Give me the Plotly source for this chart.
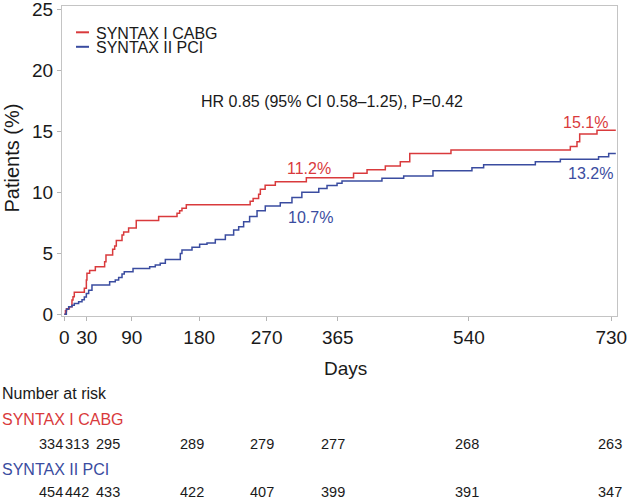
import plotly.graph_objects as go

# ---------------- data ----------------
cabg_days = [0, 1.5, 3, 6.7, 10.2, 11.6, 13.3, 26.7, 29.4, 30.2, 33.8, 41.4, 53.8, 55.6,
             64.5, 67.2, 69.4, 77, 79.2, 85.8, 96, 125.9, 150.4, 153.9, 157, 162.8,
             248, 252, 259.3, 261.6, 268, 281.6, 323, 386, 404, 428.4, 448.4, 461,
             516, 675.3, 684.2, 687.8, 710.9, 736]
cabg_pct = [0, 0.3, 0.45, 0.62, 1.17, 1.45, 1.82, 2.13, 2.82, 3.37, 3.6, 3.91, 4.32, 4.87,
            5.35, 5.6, 6.05, 6.51, 6.75, 7.08, 7.69, 8.02, 8.3, 8.5, 8.7, 9.0,
            9.28, 9.5, 9.85, 10.26, 10.6, 10.89, 11.22, 11.57, 11.86, 12.18, 12.52, 13.2,
            13.49, 13.78, 14.17, 14.8, 15.1, 15.1]

pci_days = [0, 2.7, 5.8, 10.2, 13.3, 19.1, 23.6, 26.7, 29.4, 32.5, 36.9, 60.5, 68, 72.5,
            77, 80, 91.7, 113.9, 121.4, 128, 134.8, 154.8, 157, 170.4, 180.6, 190.4,
            201.5, 214.9, 226, 232.7, 239.3, 247.3, 257.2, 268.2, 288.2, 303.8, 317,
            339.6, 350.6, 364, 370.6, 423.9, 452.9, 492, 544, 559.6, 628.6, 662, 713,
            726.5, 736]
pci_pct = [0, 0.41, 0.62, 0.75, 0.89, 1.03, 1.2, 1.42, 1.7, 1.97, 2.4, 2.68, 2.81, 3.03,
           3.3, 3.49, 3.75, 3.9, 4.05, 4.2, 4.5, 5.0, 5.28, 5.5, 5.75, 5.85,
           6.15, 6.51, 6.92, 7.19, 7.6, 8.02, 8.5, 8.89, 9.16, 9.58, 10.02,
           10.32, 10.57, 10.75, 10.94, 11.16, 11.35, 11.79, 12.03, 12.28, 12.53, 12.72, 12.94,
           13.21, 13.21]

x_ticks = [0, 30, 90, 180, 270, 365, 540, 730]
y_ticks = [0, 5, 10, 15, 20, 25]
series_names = ["SYNTAX I CABG", "SYNTAX II PCI"]
risk_cabg = [334, 313, 295, 289, 279, 277, 268, 263]
risk_pci = [454, 442, 433, 422, 407, 399, 391, 347]
hr_text = "HR 0.85 (95% CI 0.58\u20131.25), P=0.42"
pct_labels = [("11.2%", 0), ("10.7%", 1), ("15.1%", 0), ("13.2%", 1)]

# ---------------- style ----------------
RED = "#d93a3c"
BLUE = "#3a4ca0"
FONT = "Liberation Sans, Arial, Helvetica, sans-serif"
W, H = 629, 501
L, R, T, B = 62, 12, 6, 185
PW, PH = W - L - R, H - T - B


def px(xp):
    return (xp - L) / PW


def py(yp):
    return (H - B - yp) / PH


fig = go.Figure()
fig.add_trace(go.Scatter(x=cabg_days, y=cabg_pct, mode="lines", line_shape="hv",
                         line=dict(color=RED, width=1.5), name=series_names[0]))
fig.add_trace(go.Scatter(x=pci_days, y=pci_pct, mode="lines", line_shape="hv",
                         line=dict(color=BLUE, width=1.5), name=series_names[1]))

ann = []
# manual legend
for i, (nm, col) in enumerate(zip(series_names, [RED, BLUE])):
    yy = 32.3 + i * 14.5
    fig.add_shape(type="line", xref="paper", yref="paper", x0=px(76), x1=px(89),
                  y0=py(yy), y1=py(yy), line=dict(color=col, width=2))
    ann.append(dict(text=nm, xref="paper", yref="paper", x=px(94), y=py(yy + 1),
                    xanchor="left", yanchor="middle", showarrow=False,
                    font=dict(size=16, color="#1a1a1a")))

ann.append(dict(text=hr_text, xref="paper", yref="paper", x=px(331.5), y=py(101.5),
                xanchor="center", yanchor="middle", showarrow=False,
                font=dict(size=16, color="#1a1a1a")))

pct_pos = [(309, 168), (310, 217), (585, 122.5), (590, 173.5)]
for (t, s), (xx, yy) in zip(pct_labels, pct_pos):
    ann.append(dict(text=t, xref="paper", yref="paper", x=px(xx), y=py(yy),
                    xanchor="center", yanchor="middle", showarrow=False,
                    font=dict(size=16, color=[RED, BLUE][s])))

# axis titles
ann.append(dict(text="Days", xref="paper", yref="paper", x=px(345), y=py(368),
                xanchor="center", yanchor="middle", showarrow=False,
                font=dict(size=19, color="#1a1a1a")))
ann.append(dict(text="Patients (%)", xref="paper", yref="paper", x=px(11.5), y=py(158),
                xanchor="center", yanchor="middle", showarrow=False, textangle=-90,
                font=dict(size=20, color="#1a1a1a")))

# number at risk table
ann.append(dict(text="Number at risk", xref="paper", yref="paper", x=px(0), y=py(393),
                xanchor="left", yanchor="middle", showarrow=False,
                font=dict(size=16, color="#1a1a1a")))
ann.append(dict(text=series_names[0], xref="paper", yref="paper", x=px(0), y=py(419),
                xanchor="left", yanchor="middle", showarrow=False,
                font=dict(size=16, color=RED)))
ann.append(dict(text=series_names[1], xref="paper", yref="paper", x=px(0), y=py(469),
                xanchor="left", yanchor="middle", showarrow=False,
                font=dict(size=16, color=BLUE)))
col_shift = [-13.8, -10.3, -23.5, -7, -5, -5, -1.7, -1]
for row, yy in ((risk_cabg, 443.5), (risk_pci, 492)):
    for d, n, sh in zip(x_ticks, row, col_shift):
        ann.append(dict(text=str(n), xref="x", yref="paper", x=d, y=py(yy),
                        xshift=sh, xanchor="center", yanchor="middle", showarrow=False,
                        font=dict(size=14.5, color="#1a1a1a")))

fig.update_layout(
    width=W, height=H, margin=dict(l=L, r=R, t=T, b=B, autoexpand=False),
    plot_bgcolor="white", paper_bgcolor="white", showlegend=False,
    font=dict(family=FONT, size=16, color="#1a1a1a"),
    annotations=ann,
)
fig.update_xaxes(range=[-3.1, 737.6], tickvals=x_ticks, ticks="outside", ticklen=4,
                 tickcolor="#b5b5b5", showline=True, linecolor="#c4c4c4", linewidth=1,
                 mirror=True, showgrid=False, zeroline=False, automargin=False,
                 ticklabeloverflow="allow",
                 tickfont=dict(size=19, color="#1a1a1a"))
fig.update_yaxes(range=[-0.14, 25.31], tickvals=y_ticks, ticks="outside", ticklen=4,
                 tickcolor="#b5b5b5", showline=True, linecolor="#c4c4c4", linewidth=1,
                 mirror=True, showgrid=False, zeroline=False, automargin=False,
                 ticklabeloverflow="allow",
                 tickfont=dict(size=19, color="#1a1a1a"))

fig.write_html("out.html", config={"displayModeBar": False},
               post_script="document.body.style.margin='0';document.body.style.padding='0';"
                           "document.body.style.overflow='hidden';")
